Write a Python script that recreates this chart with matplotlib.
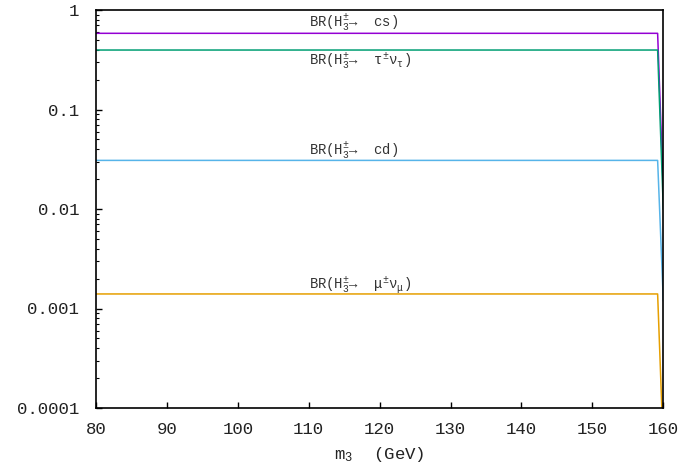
import matplotlib
matplotlib.use("Agg")
import matplotlib.pyplot as plt
from matplotlib.ticker import LogLocator, FixedLocator, NullFormatter

plt.rcParams['mathtext.fontset'] = 'custom'
plt.rcParams['mathtext.rm'] = 'Liberation Mono'
plt.rcParams['mathtext.it'] = 'Liberation Mono'
plt.rcParams['mathtext.sf'] = 'Liberation Mono'

# data: flat branching ratios up to the drop, then value at 160 GeV
m3 = [80, 159.2, 160]
br_cs = [0.583, 0.583, 0.015]
br_taunu = [0.396, 0.396, 0.010]
br_cd = [0.0308, 0.0308, 0.0012]
br_munu = [0.0014, 0.0014, 0.00004]

colors = ['#9400d3', '#009e73', '#56b4e9', '#e69f00']

labels = [r'BR(H$_3^{\pm}$→  cs)',
          r'BR(H$_3^{\pm}$→  τ$^{\pm}$ν$_{τ}$)',
          r'BR(H$_3^{\pm}$→  cd)',
          r'BR(H$_3^{\pm}$→  μ$^{\pm}$ν$_{μ}$)']
label_x = [110, 110, 110, 110]
label_y = [0.664, 0.28, 0.0349, 0.00157]

xticks = [80, 90, 100, 110, 120, 130, 140, 150, 160]
yticks = [0.0001, 0.001, 0.01, 0.1, 1]
yticklabels = ['0.0001', '0.001', '0.01', '0.1', '1']

fig = plt.figure(figsize=(6.9, 4.74), dpi=100)
ax = fig.add_axes([96/690, 1-408/474, (663.3-96)/690, (408-10)/474])

for y, c in zip([br_cs, br_taunu, br_cd, br_munu], colors):
    ax.plot(m3, y, color=c, lw=1.1)

for t, x, y in zip(labels, label_x, label_y):
    ax.text(x, y, t, fontsize=10, family=['Liberation Mono', 'DejaVu Sans Mono'],
            ha='left', va='baseline', color='#333333')

ax.set_yscale('log')
ax.set_xlim(80, 160)
ax.set_ylim(0.0001, 1)
ax.set_xticks(xticks)
ax.set_xticklabels([str(v) for v in xticks], family='Liberation Mono', fontsize=12.5, color='#222222')
ax.yaxis.set_major_locator(FixedLocator(yticks))
ax.set_yticklabels(yticklabels, family='Liberation Mono', fontsize=12.5, color='#222222')
ax.yaxis.set_minor_locator(LogLocator(base=10, subs=range(2, 10), numticks=20))
ax.yaxis.set_minor_formatter(NullFormatter())
ax.tick_params(axis='x', which='major', direction='in', length=4, width=1, pad=10)
ax.tick_params(axis='y', which='major', direction='in', length=4, width=1, pad=12)
ax.tick_params(axis='y', which='minor', direction='in', length=2.2, width=0.8)
ax.tick_params(top=False, right=False, which='both')
for s in ax.spines.values():
    s.set_linewidth(1.2)

ax.set_xlabel(r'm$_3$  (GeV)', family='Liberation Mono', fontsize=12.5, labelpad=6, color='#222222')

fig.savefig('out.png', dpi=100)
